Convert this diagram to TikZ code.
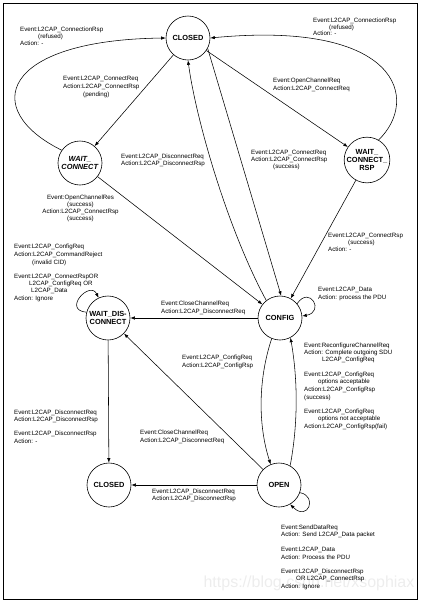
\documentclass[tikz,border=0pt]{standalone}
\usepackage{fontspec}
\setmainfont{Liberation Sans}
\usetikzlibrary{arrows.meta}
\begin{document}
\begin{tikzpicture}[x=1pt,y=-1pt,
  st/.style={circle,draw,line width=0.6pt,minimum size=44pt,inner sep=0pt,align=center,font=\fontsize{7.4}{8}\selectfont\bfseries},
  lbl/.style={anchor=north west,inner sep=0pt,align=left,font=\fontsize{6.2}{7.5}\selectfont},
  tight/.style={font=\fontsize{6.2}{5.4}\selectfont},
  arr/.style={-{Latex[length=4.5pt,width=3.4pt]},line width=0.55pt},
]
\useasboundingbox (0,0) rectangle (422,603);
\node[text=gray!14,font=\fontsize{16}{16}\selectfont,inner sep=0pt] (wm) at (309,583) {https://blog.csdn.net/xsophiax};
\draw[line width=1pt] (3,3) rectangle (417,599);

% states
\node[st] (cl) at (188,38) {CLOSED};
\node[st] (wc) at (80,163) {\textit{WAIT\_}\\\textit{CONNECT}};
\node[st] (wcr) at (367,160) {WAIT\_\\CONNECT\_\\RSP};
\node[st] (wd) at (108,318) {WAIT\_DIS-\\CONNECT};
\node[st] (cf) at (280,318) {CONFIG};
\node[st] (cl2) at (109,485) {CLOSED};
\node[st] (op) at (279,485) {OPEN};

% connectors
\draw[arr] (wc.145) .. controls (-20,110) and (0,40) .. (cl.180);
\draw[arr] (cl) -- (wc);
\draw[arr] (wcr.60) .. controls (420,100) and (400,20) .. (cl.0);
\draw[arr] (cl) -- (wcr);
\draw[arr] (cf.128) .. controls (228,230) and (196,120) .. (cl.-90);
\draw[arr] (cl.-28) -- (cf.87);
\draw[arr] (wc) -- (cf);
\draw[arr] (wcr) -- (cf);
\draw[arr] (cf) -- (wd);
\draw[arr] (cf.40) .. controls (310,285) and (325,312) .. (cf.5);
\draw[arr] (wd.165) .. controls (62,310) and (90,280) .. (wd.115);
\draw[arr] (cf.-112) .. controls (258,380) and (258,425) .. (op.112);
\draw[arr] (op.60) .. controls (298,425) and (298,380) .. (cf.-62);
\draw[arr] (op) -- (wd);
\draw[arr] (wd) -- (cl2);
\draw[arr] (op) -- (cl2);
\draw[arr] (op.-20) .. controls (318,496) and (308,522) .. (op.-60);

% labels
\node[lbl,tight] (la) at (20,26.9) {Event:L2CAP\_ConnectionRsp\\\hspace*{18pt}(refused)\\Action: -};
\node[lbl,font=\fontsize{6.2}{8}\selectfont] (lb) at (63,75.6) {Event:L2CAP\_ConnectReq\\Action:L2CAP\_ConnectRsp\\\hspace*{20pt}(pending)};
\node[lbl,tight] (lc) at (313,17.6) {Event:L2CAP\_ConnectionRsp\\\hspace*{16pt}(refused)\\Action: -};
\node[lbl,font=\fontsize{6.2}{8}\selectfont] (ld) at (273,77.6) {Event:OpenChannelReq\\Action:L2CAP\_ConnectReq};
\node[lbl,font=\fontsize{6.2}{7}\selectfont] (le) at (121,153.6) {Event:L2CAP\_DisconnectReq\\Action:L2CAP\_DisconnectRsp};
\node[lbl,font=\fontsize{6.2}{7}\selectfont] (lf) at (251,149.6) {Event:L2CAP\_ConnectReq\\Action:L2CAP\_ConnectRsp\\\hspace*{22pt}(success)};
\node[lbl,anchor=north,align=center,font=\fontsize{6.2}{7.1}\selectfont] (lg) at (80.5,194.6) {Event:OpenChannelRes\\(success)\\Action:L2CAP\_ConnectRsp\\(success)};
\node[lbl,font=\fontsize{6.2}{7}\selectfont] (lh) at (328,232.6) {Event:L2CAP\_ConnectRsp\\\hspace*{20pt}(success)\\Action: -};
\node[lbl,font=\fontsize{6.2}{8}\selectfont] (li) at (14,243.6) {Event:L2CAP\_ConfigReq\\Action:L2CAP\_CommandReject\\\hspace*{18pt}(invalid CID)};
\node[lbl,font=\fontsize{6.2}{7.3}\selectfont] (lj) at (14,273.6) {Event:L2CAP\_ConnectRspOR\\\hspace*{15pt}L2CAP\_ConfigReq OR\\\hspace*{17pt}L2CAP\_Data\\Action: Ignore};
\node[lbl,font=\fontsize{6.2}{8}\selectfont] (lk) at (161,300.6) {Event:CloseChannelReq\\Action:L2CAP\_DisconnectReq};
\node[lbl,font=\fontsize{6.2}{8}\selectfont] (ll) at (318,286.6) {Event:L2CAP\_Data\\Action: process the PDU};
\node[lbl,font=\fontsize{6.2}{7}\selectfont] (lm) at (304,342.6) {Event:ReconfigureChannelReq\\Action: Complete outgoing SDU\\\hspace*{18pt}L2CAP\_ConfigReq};
\node[lbl,font=\fontsize{6.2}{7.7}\selectfont] (ln) at (304,371.6) {Event:L2CAP\_ConfigReq\\\hspace*{14pt}options acceptable\\Action:L2CAP\_ConfigRsp\\(success)};
\node[lbl,font=\fontsize{6.2}{7.5}\selectfont] (lo) at (304,408.6) {Event:L2CAP\_ConfigReq\\\hspace*{14pt}options not acceptable\\Action:L2CAP\_ConfigRsp(fail)};
\node[lbl,font=\fontsize{6.2}{8}\selectfont] (lp) at (182,354.6) {Event:L2CAP\_ConfigReq\\Action:L2CAP\_ConfigRsp};
\node[lbl,font=\fontsize{6.2}{8}\selectfont] (lq) at (140,429.6) {Event:CloseChannelReq\\Action:L2CAP\_DisconnectReq};
\node[lbl] (lr) at (14,409.6) {Event:L2CAP\_DisconnectReq\\Action:L2CAP\_DisconnectRsp};
\node[lbl,font=\fontsize{6.2}{8}\selectfont] (ls) at (14,430.6) {Event:L2CAP\_DisconnectRsp\\Action: -};
\node[lbl] (lt) at (152,488.6) {Event:L2CAP\_DisconnectReq\\Action:L2CAP\_DisconnectRsp};
\node[lbl,font=\fontsize{6.2}{7}\selectfont] (lu) at (281,524.6) {Event:SendDataReq\\Action: Send L2CAP\_Data packet};
\node[lbl,font=\fontsize{6.2}{8}\selectfont] (lv) at (281,546.6) {Event:L2CAP\_Data\\Action: Process the PDU};
\node[lbl] (lw) at (281,568.6) {Event:L2CAP\_DisconnectRsp\\\hspace*{15pt}OR L2CAP\_ConnectRsp\\Action: Ignore};
\end{tikzpicture}
\end{document}
